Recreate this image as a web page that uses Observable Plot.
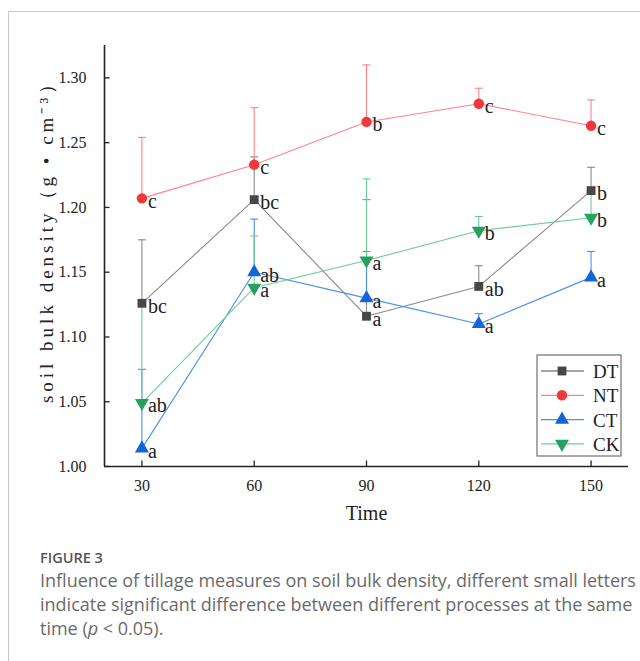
<!DOCTYPE html>
<html>
<head>
<meta charset="utf-8">
<script src="https://cdn.jsdelivr.net/npm/d3@7"></script>
<script src="https://cdn.jsdelivr.net/npm/@observablehq/plot@0.6"></script>
<style>
  html, body { margin: 0; padding: 0; background: #fff; }
  #wrap { position: relative; width: 640px; height: 661px; overflow: hidden; background: #fff; }
  #frame { position: absolute; left: 8px; top: 11px; width: 640px; height: 660px; border-left: 1px solid #c8c8c8; border-top: 1px solid #c8c8c8; }
  #chart { position: absolute; left: 0; top: 0; }
  .cap { position: absolute; left: 40px; white-space: nowrap; font-family: "Open Sans", sans-serif; line-height: 1; }
  #fig { font-size: 14.5px; font-weight: 600; color: #555; top: 551px; }
  .ln { font-size: 18px; color: #6a6a6a; }
</style>
</head>
<body>
<div id="wrap">
  <div id="frame"></div>
  <div id="chart"></div>
  <div class="cap" id="fig">FIGURE 3</div>
  <div class="cap ln" style="top:571px">Influence of tillage measures on soil bulk density, different small letters</div>
  <div class="cap ln" style="top:595px">indicate significant difference between different processes at the same</div>
  <div class="cap ln" style="top:619px">time (<i>p</i> &lt; 0.05).</div>
</div>
<script>
// ---- data ----
const times = [30, 60, 90, 120, 150];
const seriesNames = ["DT", "NT", "CT", "CK"];

const dtMean = [1.126, 1.206, 1.116, 1.139, 1.213];
const dtErr  = [0.049, 0.033, 0.050, 0.016, 0.018];
const dtSig  = ["bc", "bc", "a", "ab", "b"];

const ntMean = [1.207, 1.233, 1.266, 1.280, 1.263];
const ntErr  = [0.047, 0.044, 0.044, 0.012, 0.020];
const ntSig  = ["c", "c", "b", "c", "c"];

const ctMean = [1.014, 1.150, 1.130, 1.110, 1.146];
const ctErr  = [0.061, 0.041, 0.076, 0.008, 0.020];
const ctSig  = ["a", "ab", "a", "a", "a"];

const ckMean = [1.049, 1.138, 1.159, 1.182, 1.192];
const ckErr  = [0.075, 0.040, 0.063, 0.011, 0.021];
const ckSig  = ["ab", "a", "a", "b", "b"];

const yTicks = [1.00, 1.05, 1.10, 1.15, 1.20, 1.25, 1.30];
const xTicks = [30, 60, 90, 120, 150];
const xLabel = "Time";
const yLabel = "soil bulk density（g • cm⁻³）";

// ---- styling ----
const markerColors = ["#474747", "#f0373c", "#1565d8", "#27a060"];
const lineColors   = ["#8a8a8a", "#ff8585", "#4d8fea", "#6fcb96"];

const triangleDown = {
  draw(context, size) {
    const s3 = Math.sqrt(3);
    const y = -Math.sqrt(size / (s3 * 3));
    context.moveTo(0, -y * 2);
    context.lineTo(-s3 * y, y);
    context.lineTo(s3 * y, y);
    context.closePath();
  }
};
const markerSymbols = ["square", "circle", "triangle", triangleDown];
const markerR = [5.0, 5.2, 5.2, 5.2];

const capSymbol = { draw(ctx) { ctx.moveTo(-4, 0); ctx.lineTo(4, 0); } };
const tickRight = { draw(ctx) { ctx.moveTo(0, 0); ctx.lineTo(5, 0); } };
const tickUp = { draw(ctx) { ctx.moveTo(0, 0); ctx.lineTo(0, -6); } };

const means = [dtMean, ntMean, ctMean, ckMean];
const errs = [dtErr, ntErr, ctErr, ckErr];
const sigs = [dtSig, ntSig, ctSig, ckSig];

const series = seriesNames.map((name, i) => times.map((t, j) => ({
  name, t, v: means[i][j], e: errs[i][j], top: means[i][j] + errs[i][j], sig: sigs[i][j]
})));

const xDomain = [20, 160];
const yDomain = [1.0, 1.325];
const serif = "'Liberation Serif', 'Times New Roman', serif";

const marks = [];
series.forEach((rows, i) => {
  marks.push(Plot.line(rows, {x: "t", y: "v", stroke: lineColors[i], strokeWidth: 1.1}));
});
series.forEach((rows, i) => {
  marks.push(Plot.ruleX(rows, {x: "t", y1: "v", y2: "top", stroke: lineColors[i], strokeWidth: 1.1}));
  marks.push(Plot.dot(rows, {x: "t", y: "top", symbol: capSymbol, stroke: lineColors[i], strokeWidth: 1.1, fill: "none"}));
});
series.forEach((rows, i) => {
  marks.push(Plot.dot(rows, {x: "t", y: "v", symbol: markerSymbols[i], r: markerR[i], fill: markerColors[i], stroke: "none"}));
});
series.forEach((rows, i) => {
  marks.push(Plot.text(rows, {x: "t", y: "v", text: "sig", textAnchor: "start", dx: 6, dy: 3, fontSize: 20, fill: "#222", fontFamily: serif}));
});

const chart = Plot.plot({
  width: 640,
  height: 540,
  marginTop: 45,
  marginLeft: 104,
  marginRight: 12,
  marginBottom: 74,
  style: {fontFamily: serif, fontSize: "16px", color: "#222", background: "transparent"},
  x: {domain: xDomain},
  y: {domain: yDomain},
  marks: [
    Plot.axisY({ticks: yTicks, tickSize: 0, tickPadding: 18, tickFormat: d => d.toFixed(2), label: null, fill: "#222"}),
    Plot.axisX({ticks: xTicks, tickSize: 0, tickPadding: 13, tickFormat: d => String(d), label: null, fill: "#222"}),
    Plot.dot(yTicks, {x: () => xDomain[0], y: d => d, symbol: tickRight, stroke: "#222", strokeWidth: 1.3}),
    Plot.dot(xTicks, {x: d => d, y: () => yDomain[0], symbol: tickUp, stroke: "#222", strokeWidth: 1.3}),
    ...marks,
    Plot.ruleX([xDomain[0]], {stroke: "#222", strokeWidth: 1.6}),
    Plot.ruleY([yDomain[0]], {stroke: "#222", strokeWidth: 1.6}),
    Plot.text([xLabel], {frameAnchor: "bottom", dy: 53, text: d => d, fontSize: 20, fill: "#222", fontFamily: serif})
  ]
});
document.getElementById("chart").appendChild(chart);

const svg = d3.select(chart);

// y-axis title
svg.append("text")
  .attr("transform", "translate(53,237) rotate(-90)")
  .attr("text-anchor", "middle")
  .attr("font-family", serif)
  .attr("font-size", 19)
  .attr("fill", "#222")
  .style("letter-spacing", "4px")
  .text(yLabel);

// ---- legend (inside plot, lower right) ----
const lg = svg.append("g").attr("transform", "translate(537,355)");
lg.append("rect").attr("width", 84).attr("height", 101).attr("fill", "#fff").attr("stroke", "#555").attr("stroke-width", 1);
seriesNames.forEach((name, i) => {
  const y = 16 + i * 24.3;
  const g = lg.append("g").attr("transform", `translate(0,${y})`);
  g.append("line").attr("x1", 4).attr("x2", 47).attr("y1", 0).attr("y2", 0).attr("stroke", lineColors[i]).attr("stroke-width", 1.3);
  const sym = markerSymbols[i];
  const symType = typeof sym === "string" ? {square: d3.symbolSquare, circle: d3.symbolCircle, triangle: d3.symbolTriangle}[sym] : sym;
  g.append("path").attr("transform", "translate(25,0)").attr("d", d3.symbol(symType, Math.PI * markerR[i] * markerR[i])()).attr("fill", markerColors[i]);
  g.append("text").attr("x", 56).attr("y", 7).attr("text-anchor", "start").attr("font-size", 19).attr("font-family", serif).attr("fill", "#222").text(name);
});
</script>
</body>
</html>
